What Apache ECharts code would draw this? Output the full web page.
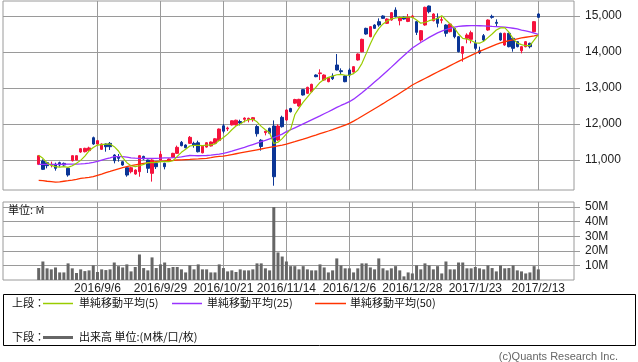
<!DOCTYPE html>
<html><head><meta charset="utf-8">
<script src="https://cdn.jsdelivr.net/npm/echarts@6/dist/echarts.min.js"></script>
<style>html,body{margin:0;padding:0;background:#fff}#c{width:638px;height:362px}</style>
</head><body><div id="c"></div>
<script>
const dates = ['2016/8/17','2016/8/18','2016/8/19','2016/8/22','2016/8/23','2016/8/24','2016/8/25','2016/8/26','2016/8/29','2016/8/30','2016/8/31','2016/9/1','2016/9/2','2016/9/5','2016/9/6','2016/9/7','2016/9/8','2016/9/9','2016/9/12','2016/9/13','2016/9/14','2016/9/15','2016/9/16','2016/9/20','2016/9/21','2016/9/23','2016/9/26','2016/9/27','2016/9/28','2016/9/29','2016/9/30','2016/10/3','2016/10/4','2016/10/5','2016/10/6','2016/10/7','2016/10/11','2016/10/12','2016/10/13','2016/10/14','2016/10/17','2016/10/18','2016/10/19','2016/10/20','2016/10/21','2016/10/24','2016/10/25','2016/10/26','2016/10/27','2016/10/28','2016/10/31','2016/11/1','2016/11/2','2016/11/4','2016/11/7','2016/11/8','2016/11/9','2016/11/10','2016/11/11','2016/11/14','2016/11/15','2016/11/16','2016/11/17','2016/11/18','2016/11/21','2016/11/22','2016/11/24','2016/11/25','2016/11/28','2016/11/29','2016/11/30','2016/12/1','2016/12/2','2016/12/5','2016/12/6','2016/12/7','2016/12/8','2016/12/9','2016/12/12','2016/12/13','2016/12/14','2016/12/15','2016/12/16','2016/12/19','2016/12/20','2016/12/21','2016/12/22','2016/12/26','2016/12/27','2016/12/28','2016/12/29','2016/12/30','2017/1/4','2017/1/5','2017/1/6','2017/1/10','2017/1/11','2017/1/12','2017/1/13','2017/1/16','2017/1/17','2017/1/18','2017/1/19','2017/1/20','2017/1/23','2017/1/24','2017/1/25','2017/1/26','2017/1/27','2017/1/30','2017/1/31','2017/2/1','2017/2/2','2017/2/3','2017/2/6','2017/2/7','2017/2/8','2017/2/9','2017/2/10','2017/2/13'];

const tickDates = ['2016/9/6','2016/9/29','2016/10/21','2016/11/14','2016/12/6','2016/12/28','2017/1/23','2017/2/13'];

// [open, close, low, high]
const ohlc = [
[10880,11120,10860,11140],[10972,10741,10722,11018],[10926,10843,10768,10940],[10870,10880,10796,10954],[10880,10769,10704,10926],
[10926,10861,10815,10954],[10907,10861,10840,10930],[10769,10583,10537,10790],[10981,11120,10960,11130],[11000,11120,10990,11130],
[11222,11315,11200,11330],[11231,11324,11210,11340],[11260,11335,11222,11370],[11620,11444,11420,11650],[11444,11537,11430,11550],
[11296,11444,11280,11460],[11444,11370,11231,11460],[11463,11370,11278,11500],[11139,10981,10907,11160],[11093,11046,10954,11167],
[10953,10861,10840,10970],[10786,10583,10536,10800],[10675,10786,10630,10814],[10611,10722,10590,10740],[10675,11120,10536,11140],
[11100,11028,11010,11120],[11000,10769,10640,11010],[10630,11000,10400,11020],[10908,10814,10750,10925],[11000,11158,10990,11250],
[10908,10814,10741,10925],[10972,11028,10955,11045],[11075,11185,11060,11200],[11185,11352,11170,11400],[11491,11398,11380,11528],
[11417,11342,11325,11435],[11463,11630,11445,11667],[11463,11417,11342,11509],[11480,11230,11210,11537],[11200,11385,11185,11400],
[11360,11480,11345,11495],[11390,11500,11375,11515],[11465,11590,11450,11605],[11540,11860,11525,11875],[11950,11800,11741,12000],
[11865,11890,11806,11926],[11975,12090,11960,12100],[11975,12105,11960,12120],[12070,12030,11960,12120],[12130,12165,12046,12185],
[12120,12158,12046,12176],[12120,12176,12065,12195],[11930,11730,11650,11970],[11550,11375,11260,11580],[11760,11800,11685,11810],
[11880,11745,11720,11900],[11944,10536,10286,12100],[11556,11944,11530,11990],[12186,11926,11900,12230],[12111,12389,12090,12410],
[12430,12342,12320,12450],[12580,12680,12560,12700],[12500,12685,12480,12700],[12955,12806,12790,12970],[12852,13019,12835,13035],
[12898,13102,12880,13120],[13361,13315,13300,13380],[13400,13420,13222,13519],[13222,13361,13200,13380],[13176,13287,13160,13300],
[13333,13259,13222,13407],[13639,13500,13490,13944],[13481,13454,13389,13546],[13333,13176,13160,13350],[13500,13361,13296,13546],
[13444,13593,13430,13610],[13778,13944,13760,13960],[14009,14352,13990,14370],[14657,14500,14480,14675],[14426,14704,14410,14720],
[14750,14657,14640,14770],[14843,14750,14704,14935],[15000,14935,14920,15020],[14796,14917,14780,14935],[14889,15093,14870,15110],
[15167,14981,14960,15241],[14870,14950,14740,14990],[14972,14917,14900,14990],[14850,14975,14830,15056],[14963,15000,14945,15028],
[14843,14546,14472,14860],[14333,14593,14287,14611],[14750,15241,14730,15260],[15278,15120,15074,15290],[14870,15056,14850,15075],
[14935,14796,14685,15074],[14880,14900,14796,14981],[14750,14519,14426,14770],[14565,14778,14545,14795],[14657,14426,14380,14675],
[14426,14009,13990,14445],[13963,14148,13731,14165],[14380,14472,14241,14519],[14352,14537,14241,14593],[14241,14102,14056,14333],
[14037,13981,13944,14148],[14454,14333,14287,14500],[14611,14889,14590,14905],[14990,14963,14926,15037],[14824,14796,14704,14907],
[14519,14333,14310,14537],[14194,14519,14170,14537],[14519,14148,14130,14537],[14380,14102,14009,14400],[14287,14148,14130,14300],
[14037,14148,13963,14165],[14148,14287,14130,14305],[14241,14148,14102,14260],[14565,14843,14545,14860],[15056,14963,14945,15075]
];

const ma5 = [11130,11046,10920,10850,10815,10800,10815,10796,10840,10907,
10990,11110,11255,11350,11415,11430,11440,11445,11370,11250,
11065,10926,10840,10815,10840,10880,10926,10926,10935,10955,
10955,10955,10980,11100,11213,11300,11390,11407,11407,11400,
11415,11420,11445,11545,11625,11720,11840,11945,12000,12075,
12120,12130,12060,11935,11840,11755,11460,11495,11595,11725,
11850,12256,12440,12610,12750,12890,13020,13155,13241,13296,
13330,13368,13380,13355,13355,13400,13495,13685,13955,14230,
14470,14650,14780,14860,14920,14944,14960,14960,14965,14965,
14890,14800,14820,14870,14900,14930,15010,14890,14780,14670,
14500,14378,14360,14318,14256,14245,14300,14400,14500,14610,
14670,14680,14550,14370,14245,14205,14175,14180,14330,14480];

const ma25 = [10880,10880,10878,10878,10880,10880,10882,10884,10886,10888,
10890,10900,10915,10935,10960,11000,11030,11060,11093,11095,
11093,11080,11060,11050,11046,11046,11046,11046,11046,11050,
11058,11062,11066,11075,11090,11110,11125,11122,11118,11120,
11125,11135,11150,11165,11185,11215,11245,11280,11315,11350,
11390,11430,11470,11510,11545,11585,11625,11670,11720,11787,
11840,11895,11950,12005,12060,12115,12170,12225,12285,12340,
12400,12460,12515,12565,12620,12690,12780,12870,12965,13065,
13165,13265,13370,13475,13580,13690,13800,13905,14010,14110,
14190,14265,14335,14405,14470,14530,14580,14625,14660,14690,
14710,14722,14730,14735,14735,14730,14725,14718,14710,14705,
14700,14690,14675,14660,14640,14611,14590,14560,14525,14490];

const ma50 = [10435,10425,10410,10398,10385,10390,10410,10425,10444,10465,
10491,10505,10520,10537,10575,10611,10650,10685,10722,10755,
10787,10815,10843,10865,10885,10907,10922,10938,10954,10963,
10972,10982,10990,11000,11006,11012,11018,11025,11030,11038,
11046,11065,11085,11100,11110,11130,11152,11174,11196,11218,
11240,11262,11284,11306,11328,11350,11372,11394,11416,11444,
11478,11510,11545,11580,11618,11655,11692,11730,11768,11806,
11845,11885,11925,11970,12019,12080,12145,12215,12285,12355,
12425,12495,12565,12640,12710,12780,12855,12930,13005,13083,
13145,13205,13265,13325,13385,13445,13505,13560,13620,13680,
13740,13795,13850,13905,13963,14015,14065,14115,14165,14210,
14255,14285,14315,14340,14365,14390,14410,14430,14450,14472];

// volume in millions
const volume = [8.2,12.7,8,7.3,8.6,5.2,5.2,11.4,8,4.8,
7.3,6.1,6.6,10,5.5,7.3,6.8,7.3,12,9.5,
8.6,10.7,5.9,8.9,17.5,8.2,6.6,15.5,8.2,10.7,
12,8.2,8.9,8.9,7.3,5.2,10,7.3,10.7,7.3,
7.3,5.2,5.2,10.7,8.2,5.9,6.6,5.5,7.3,6.6,
6.6,7.3,11.4,11.4,8,6.6,50,18.9,16.1,12.7,
9.5,9.5,7.3,9.5,7.3,6.6,6.6,10.7,8.6,5.2,
6.6,14.8,10,8,8,5.2,8,11.4,11.4,8.6,
7.3,14.8,8,6.6,8,9.5,6.6,2.5,5.2,4.5,
10,7.3,11.4,10,7.3,9.5,4.5,12.7,7.3,7.3,
12,12,8,8,8.9,8,7.3,10,8.2,5.9,
10,8,8.2,10,6.6,5.9,4.5,5.2,9.5,7.3];

const priceTicks = [11000,12000,13000,14000,15000];
const volumeTicks = [10,20,30,40,50];

const FONT = '"Liberation Sans", Arial, "Noto Sans CJK JP", sans-serif';
const JFONT = '"Noto Sans CJK JP", "Liberation Sans", sans-serif';
const PAD = 8;
const padL = [], padR = [], blank = [];
for (let i = 0; i < PAD; i++) { padL.push('L' + i); padR.push('R' + i); blank.push('-'); }
const categories = padL.concat(dates, padR);
const pad = arr => blank.concat(arr, blank);
const isTick = (idx, val) => tickDates.indexOf(val) >= 0;
const GRID = '#9a9a9a';
const UP = '#f5133d', DOWN = '#0b3596';
const C5 = '#99cc00', C25 = '#9933ff', C50 = '#ff3300';

const chart = echarts.init(document.getElementById('c'), null, {renderer: 'canvas'});
chart.setOption({
  animation: false,
  backgroundColor: '#fff',
  grid: [
    {left: 3, top: 1, width: 571, height: 189, show: true, borderColor: GRID, borderWidth: 1},
    {left: 3, top: 202, width: 571, height: 78, show: true, borderColor: GRID, borderWidth: 1}
  ],
  xAxis: [
    {type: 'category', gridIndex: 0, data: categories, boundaryGap: true,
     axisLine: {show: false}, axisTick: {show: false}, axisLabel: {show: false},
     splitLine: {show: true, interval: isTick, alignWithLabel: true, lineStyle: {color: GRID, width: 1}}},
    {type: 'category', gridIndex: 1, data: categories, boundaryGap: true,
     axisLine: {show: false}, axisTick: {show: false},
     axisLabel: {show: true, interval: isTick, margin: 3, fontSize: 12, color: '#222', fontFamily: FONT},
     splitLine: {show: true, interval: isTick, alignWithLabel: true, lineStyle: {color: GRID, width: 1}}}
  ],
  yAxis: [
    {type: 'value', gridIndex: 0, position: 'right', min: 10167, max: 15417, splitNumber: 5,
     axisLine: {show: false},
     axisTick: {show: true, length: 6, customValues: priceTicks, lineStyle: {color: GRID}},
     axisLabel: {customValues: priceTicks, margin: 11, fontSize: 12, color: '#222', fontFamily: FONT,
       formatter: v => (v % 1000 === 0 ? echarts.format.addCommas(v) : '')},
     splitLine: {show: true, lineStyle: {color: GRID, width: 1}}},
    {type: 'value', gridIndex: 1, position: 'right', min: 0, max: 53.5, splitNumber: 5,
     axisLine: {show: false},
     axisTick: {show: true, length: 6, customValues: volumeTicks, lineStyle: {color: GRID}},
     axisLabel: {customValues: volumeTicks, margin: 11, fontSize: 12, color: '#222', fontFamily: FONT,
       formatter: v => (v > 0 && v % 10 === 0 ? v + 'M' : '')},
     splitLine: {show: true, lineStyle: {color: GRID, width: 1}}}
  ],
  series: [
    {type: 'candlestick', xAxisIndex: 0, yAxisIndex: 0, data: pad(ohlc), barWidth: 3,
     itemStyle: {color: UP, color0: DOWN, borderColor: UP, borderColor0: DOWN, borderWidth: 1}},
    {type: 'line', xAxisIndex: 0, yAxisIndex: 0, data: pad(ma50), symbol: 'none', showSymbol: false,
     lineStyle: {color: C50, width: 1.3}, z: 3},
    {type: 'line', xAxisIndex: 0, yAxisIndex: 0, data: pad(ma25), symbol: 'none', showSymbol: false,
     lineStyle: {color: C25, width: 1.3}, z: 3},
    {type: 'line', xAxisIndex: 0, yAxisIndex: 0, data: pad(ma5), symbol: 'none', showSymbol: false,
     lineStyle: {color: C5, width: 1.2}, z: 3},
    {type: 'bar', xAxisIndex: 1, yAxisIndex: 1, data: pad(volume), barWidth: 3,
     itemStyle: {color: '#666666'}}
  ],
  graphic: [
    {type: 'text', x: 8, y: 210, silent: true, style: {text: '単位: M', fontSize: 11, fontFamily: JFONT, fill: '#111', verticalAlign: 'middle'}},
    {type: 'rect', silent: true, shape: {x: 3.5, y: 294.5, width: 632, height: 51}, style: {fill: '#fff', stroke: '#000', lineWidth: 1}},
    {type: 'text', x: 12, y: 303, silent: true, style: {text: '上段：', fontSize: 11, fontFamily: JFONT, fill: '#111', verticalAlign: 'middle'}},
    {type: 'line', silent: true, z: 10, shape: {x1: 43, y1: 303.5, x2: 73, y2: 303.5}, style: {stroke: C5, lineWidth: 1.5}},
    {type: 'text', x: 79, y: 303, silent: true, style: {text: '単純移動平均(5)', fontSize: 11, fontFamily: JFONT, fill: '#111', verticalAlign: 'middle'}},
    {type: 'line', silent: true, z: 10, shape: {x1: 172, y1: 303.5, x2: 202, y2: 303.5}, style: {stroke: C25, lineWidth: 1.5}},
    {type: 'text', x: 207, y: 303, silent: true, style: {text: '単純移動平均(25)', fontSize: 11, fontFamily: JFONT, fill: '#111', verticalAlign: 'middle'}},
    {type: 'line', silent: true, z: 10, shape: {x1: 315, y1: 303.5, x2: 346, y2: 303.5}, style: {stroke: C50, lineWidth: 1.5}},
    {type: 'text', x: 350, y: 303, silent: true, style: {text: '単純移動平均(50)', fontSize: 11, fontFamily: JFONT, fill: '#111', verticalAlign: 'middle'}},
    {type: 'text', x: 12, y: 337, silent: true, style: {text: '下段：', fontSize: 11, fontFamily: JFONT, fill: '#111', verticalAlign: 'middle'}},
    {type: 'line', silent: true, z: 10, shape: {x1: 43, y1: 337.5, x2: 73, y2: 337.5}, style: {stroke: '#666666', lineWidth: 3}},
    {type: 'text', x: 79, y: 337, silent: true, style: {text: '出来高 単位:(M株/口/枚)', fontSize: 11, fontFamily: JFONT, fill: '#111', verticalAlign: 'middle'}},
    {type: 'text', x: 618, y: 357, silent: true, style: {text: '(c)Quants Research Inc.', fontSize: 11, fontFamily: FONT, fill: '#666', align: 'right', verticalAlign: 'middle'}}
  ]
});
</script>
</body></html>
